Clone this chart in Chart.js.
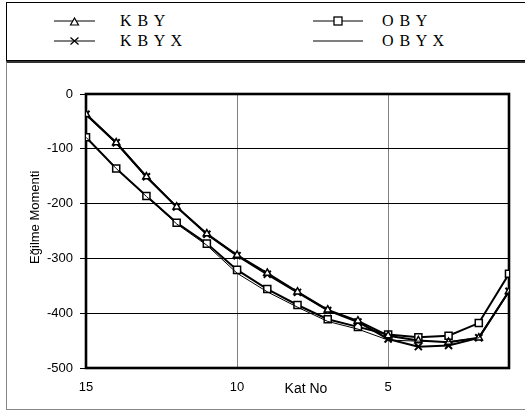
<!DOCTYPE html>
<html><head><meta charset="utf-8">
<script src="https://cdn.jsdelivr.net/npm/chart.js@4"></script>
<style>
body{margin:0;background:#fff;width:525px;height:410px;overflow:hidden;position:relative;font-family:"Liberation Sans",Arial,sans-serif}
#legend{position:absolute;left:6px;top:2px;width:530px;height:57px;border:1px solid #000;border-bottom:2px solid #000;box-sizing:content-box}
#chartbox{position:absolute;left:6px;top:61px;width:530px;height:346px;border:1px solid #888;border-top:2px solid #333}
#cv{position:absolute;left:8px;top:62px}
.lt{position:absolute;font-family:"Liberation Serif","Times New Roman",serif;font-size:16px;letter-spacing:1px;line-height:16px;white-space:nowrap;color:#000}
.li{position:absolute}
</style>
</head><body>
<div id="legend"></div>
<div id="chartbox"></div>
<canvas id="cv" width="517" height="347"></canvas>
<script>
const katNo = [15,14,13,12,11,10,9,8,7,6,5,4,3,2,1];
const xTicks = [15,10,5];
const seriesNames = ["K B Y","K B Y X","O B Y","O B Y X"];
const KBY  = [-37,-89,-151,-206,-255,-294,-327,-361,-394,-414,-441,-450,-453,-445,-360];
const KBYX = [-37,-89,-151,-206,-256,-295,-329,-362,-395,-416,-447,-461,-459,-445,-360];
const OBY  = [-79,-136,-186,-235,-273,-321,-356,-385,-411,-425,-439,-444,-441,-418,-328];
const OBYX = [-79,-136,-187,-237,-276,-327,-361,-389,-415,-429,-449,-451,-452,-445,-360];
const yTitle = "Eğilme Momenti";
const xTitle = "Kat No";

const toXY = arr => arr.map((v,i)=>({x:katNo[i], y:v}));

// HTML legend (two columns)
const legendItems = [
  {name:seriesNames[0], icon:'tri', ix:54, iw:41, tx:120, y:21},
  {name:seriesNames[1], icon:'x',   ix:54, iw:41, tx:120, y:41},
  {name:seriesNames[2], icon:'sq',  ix:313, iw:50, tx:382, y:21},
  {name:seriesNames[3], icon:'none',ix:313, iw:50, tx:382, y:41}
];
const lg = document.body;
legendItems.forEach(it=>{
  const c = it.iw/2;
  let m = '';
  if(it.icon==='tri') m = `<polygon points="${c-4},10 ${c+4},10 ${c},3" fill="#fff" stroke="#000" stroke-width="1.2"/>`;
  if(it.icon==='x') m = `<path d="M${c-4},2.5 L${c+4},9.5 M${c-4},9.5 L${c+4},2.5" stroke="#000" stroke-width="1.3"/>`;
  if(it.icon==='sq') m = `<rect x="${c-4}" y="2" width="8" height="8" fill="#fff" stroke="#000" stroke-width="1.3"/>`;
  const svg = `<svg class="li" style="left:${it.ix}px;top:${it.y-6}px" width="${it.iw}" height="12"><line x1="0" y1="6" x2="${it.iw}" y2="6" stroke="#000" stroke-width="1.2"/>${m}</svg>`;
  lg.insertAdjacentHTML('beforeend', svg + `<div class="lt" style="left:${it.tx}px;top:${it.y-8}px">${it.name}</div>`);
});

const framePlugin = {
  id:'frame',
  beforeDatasetsDraw(c){
    const a = c.chartArea, ctx = c.ctx;
    ctx.save();
    ctx.strokeStyle = '#000';
    ctx.lineWidth = 2.6;
    ctx.strokeRect(a.left, a.top, a.right-a.left, a.bottom-a.top);
    ctx.restore();
  },
  afterDraw(c){
    const a = c.chartArea, ctx = c.ctx;
    ctx.save();
    ctx.fillStyle = '#000';
    ctx.textAlign = 'center';
    ctx.textBaseline = 'middle';
    ctx.font = '14px "Liberation Sans", Arial, sans-serif';
    ctx.fillText(xTitle, a.left + (a.right-a.left)*0.52, a.bottom + 21);
    ctx.translate(27, a.top + (a.bottom-a.top)*0.45);
    ctx.rotate(-Math.PI/2);
    ctx.font = '13px "Liberation Sans", Arial, sans-serif';
    ctx.fillText(yTitle, 0, 0);
    ctx.restore();
  }
};

const fontSans = {family:'"Liberation Sans", Arial, sans-serif', size:13};

new Chart(document.getElementById('cv'), {
  type:'line',
  data:{
    datasets:[
      {label:seriesNames[3], data:toXY(OBYX), borderColor:'#000', borderWidth:1, pointRadius:0, tension:0},
      {label:seriesNames[0], data:toXY(KBY), borderColor:'#000', borderWidth:2, pointStyle:'triangle', pointRadius:4.2, pointBackgroundColor:'#fff', pointBorderColor:'#000', pointBorderWidth:1.5, tension:0},
      {label:seriesNames[1], data:toXY(KBYX), borderColor:'#000', borderWidth:2, pointStyle:'crossRot', pointRadius:5, pointBorderColor:'#000', pointBorderWidth:2, tension:0},
      {label:seriesNames[2], data:toXY(OBY), borderColor:'#000', borderWidth:2, pointStyle:'rect', pointRadius:5, pointBackgroundColor:'#fff', pointBorderColor:'#000', pointBorderWidth:1.5, tension:0}
    ]
  },
  options:{
    responsive:false,
    animation:false,
    events:[],
    layout:{padding:{left:0, top:32, right:16, bottom:0}},
    plugins:{legend:{display:false}, tooltip:{enabled:false}},
    scales:{
      x:{
        type:'linear', reverse:true, min:1, max:15,
        afterBuildTicks(s){ s.ticks = xTicks.map(v=>({value:v})); },
        afterFit(s){ s.height = 41; },
        border:{display:false},
        grid:{color:'#808080', lineWidth:1, drawTicks:false},
        ticks:{color:'#000', font:fontSans, padding:12, maxRotation:0, autoSkip:false, callback:v=>String(v)}
      },
      y:{
        min:-500, max:0,
        afterFit(s){ s.width = 78; },
        border:{display:false},
        grid:{color:'#000', lineWidth:1, tickLength:6, tickColor:'#000'},
        ticks:{color:'#000', font:fontSans, padding:7, stepSize:100}
      }
    }
  },
  plugins:[framePlugin]
});
</script>
</body></html>
